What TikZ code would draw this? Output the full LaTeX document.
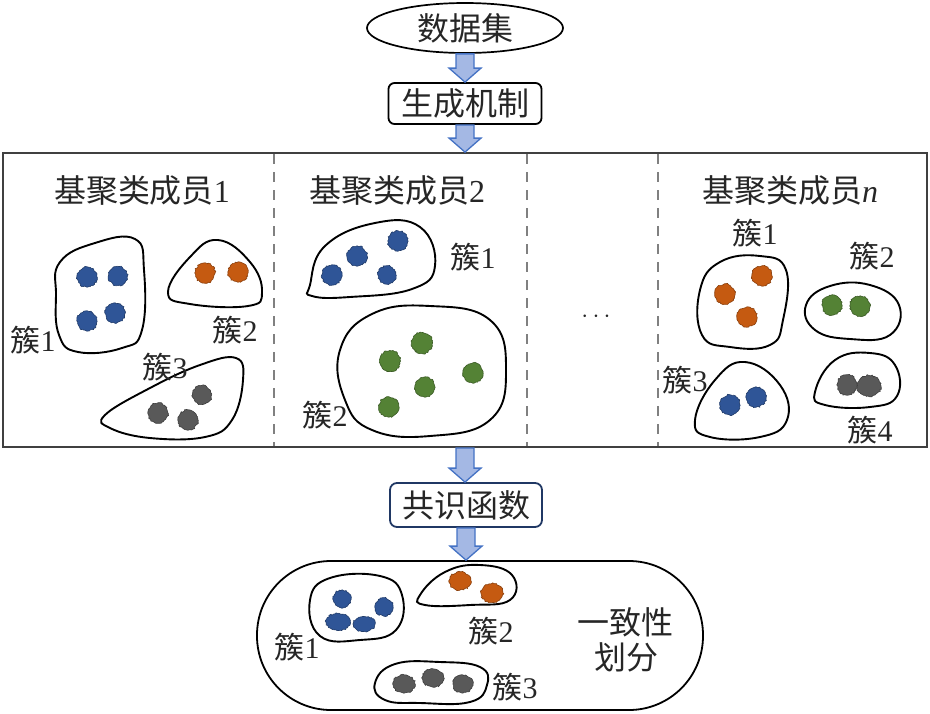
\documentclass[tikz,border=0pt]{standalone}
\usepackage{fontspec}
\setmainfont{Liberation Serif}
\newfontfamily\cjk{Noto Sans CJK SC}
\usetikzlibrary{calc,decorations.pathmorphing,shapes.geometric}
\definecolor{txt}{HTML}{262626}
\definecolor{dblue}{HTML}{2F5597}
\definecolor{dorange}{HTML}{C55A11}
\definecolor{dgreen}{HTML}{548235}
\definecolor{dgray}{HTML}{595959}
\definecolor{arrfill}{HTML}{A4B8E4}
\definecolor{arrdraw}{HTML}{4472C4}
\definecolor{navy}{HTML}{203864}
\definecolor{framegray}{HTML}{404040}
\definecolor{sepgray}{HTML}{808080}
\newcommand\blockarr[2]{%
  \path[fill=arrfill, draw=arrdraw, line width=1.3pt, line join=miter]
    let \p1=(#1), \p2=(#2) in
    (\x1-9pt,\y1) -- (\x1+9pt,\y1) -- (\x1+9pt,\y2+14pt) -- (\x1+16pt,\y2+14pt)
    -- (\x1,\y2) -- (\x1-16pt,\y2+14pt) -- (\x1-9pt,\y2+14pt) -- cycle;}
\begin{document}
\begin{tikzpicture}[x=1pt,y=-1pt,
  lbl/.style={text=txt, font=\fontsize{30}{30}\selectfont, inner sep=0pt},
  hdr/.style={text=txt, font=\fontsize{32}{32}\selectfont, inner sep=0pt},
  blob/.style={line width=1.9pt, draw=black},
  fuzz/.style={fill=#1, draw=#1!70!black, line width=0.6pt, decorate,
    decoration={random steps, segment length=1.5pt, amplitude=0.8pt}},
  sep/.style={draw=sepgray, line width=1.3pt, dash pattern=on 10pt off 8pt},
]
\pgfmathsetseed{7}
\useasboundingbox (0,0) rectangle (930,713);

% top
\node[draw, ellipse, minimum width=196pt, minimum height=50pt, line width=1.7pt, hdr] (ds) at (465,28) {\cjk 数据集};
\node[draw, rounded corners=6pt, minimum width=153pt, minimum height=41pt, line width=1.8pt, hdr] (gen) at (465,103.5) {\cjk 生成机制};
\node[draw=framegray, minimum width=924pt, minimum height=294pt, line width=1.8pt, inner sep=0pt] (panel) at (465,300) {};
\node[draw=navy, rounded corners=7pt, minimum width=152pt, minimum height=44pt, line width=1.8pt, hdr] (cons) at (466,505) {\cjk 共识函数};
\node[draw, rounded corners=74pt, minimum width=446pt, minimum height=149pt, line width=1.8pt, inner sep=0pt] (res) at (480,635.5) {};

\blockarr{ds.south}{gen.north}
\blockarr{gen.south}{panel.north}
\blockarr{panel.south}{cons.north}
\blockarr{cons.south}{res.north}

% separators
\draw[sep] (274,154) -- (274,446);
\draw[sep] (527,154) -- (527,446);
\draw[sep] (658,154) -- (658,446);

% headers
\node[hdr] (h1) at (142,190) {{\cjk 基聚类成员}1};
\node[hdr] (h2) at (397,190) {{\cjk 基聚类成员}2};
\node[hdr] (hn) at (790,190) {{\cjk 基聚类成员}\textit{n}};
\node[lbl] (dots) at (596,317) {$\cdots$};

% panel 1
\draw[blob] plot[smooth cycle, tension=0.75] coordinates {(60,262) (95,243) (135,239) (144,270) (142,330) (122,348) (78,352) (59,335) (56,295)};
\draw[blob] plot[smooth cycle, tension=0.75] coordinates {(168,292) (190,257) (218,240) (250,262) (262,292) (248,306) (190,304)};
\draw[blob] plot[smooth cycle, tension=0.7] coordinates {(105,415) (150,388) (200,365) (236,358) (243,380) (232,420) (205,437) (150,438) (110,428)};
\path[fuzz=dblue] (87,277) circle (10pt);
\path[fuzz=dblue] (118,276) circle (9.5pt);
\path[fuzz=dblue] (87,321) circle (10pt);
\path[fuzz=dblue] (115,313) circle (10pt);
\path[fuzz=dorange] (205,273) circle (10pt);
\path[fuzz=dorange] (238,272) circle (10pt);
\path[fuzz=dgray] (158,413) circle (10pt);
\path[fuzz=dgray] (188,420) circle (10pt);
\path[fuzz=dgray] (202,395) circle (9.5pt);
\node[lbl] (p1c1) at (33,340) {{\cjk 簇}1};
\node[lbl] (p1c2) at (235,330) {{\cjk 簇}2};
\node[lbl] (p1c3) at (165,367) {{\cjk 簇}3};

% panel 2
\draw[blob] plot[smooth cycle, tension=0.75] coordinates {(310,285) (325,246) (375,223) (420,227) (435,266) (412,289) (350,297) (312,296)};
\draw[blob] plot[smooth cycle, tension=0.75] coordinates {(340,350) (372,314) (430,306) (490,320) (506,370) (490,420) (430,436) (372,430) (345,400)};
\path[fuzz=dblue] (332,275) circle (10pt);
\path[fuzz=dblue] (357,256) circle (10pt);
\path[fuzz=dblue] (398,241) circle (10pt);
\path[fuzz=dblue] (387,275) circle (9pt);
\path[fuzz=dgreen] (390,361) circle (10.5pt);
\path[fuzz=dgreen] (422,343) circle (10.5pt);
\path[fuzz=dgreen] (425,387) circle (10pt);
\path[fuzz=dgreen] (473,373) circle (10pt);
\path[fuzz=dgreen] (389,407) circle (10pt);
\node[lbl] (p2c1) at (473,257) {{\cjk 簇}1};
\node[lbl] (p2c2) at (325,415) {{\cjk 簇}2};

% panel n
\draw[blob] plot[smooth cycle, tension=0.75] coordinates {(700,290) (720,262) (760,256) (786,270) (783,320) (770,345) (730,347) (702,335)};
\draw[blob] plot[smooth cycle, tension=0.75] coordinates {(806,305) (830,286) (870,285) (899,305) (890,335) (850,339) (815,330)};
\draw[blob] plot[smooth cycle, tension=0.75] coordinates {(695,420) (715,380) (745,362) (780,385) (787,420) (760,437) (710,437)};
\draw[blob] plot[smooth cycle, tension=0.75] coordinates {(815,392) (835,360) (870,353) (895,365) (897,396) (870,407) (825,405)};
\path[fuzz=dorange] (725,294) circle (10pt);
\path[fuzz=dorange] (762,276) circle (10pt);
\path[fuzz=dorange] (747,317) circle (10pt);
\path[fuzz=dgreen] (832,305) circle (10pt);
\path[fuzz=dgreen] (860,306) circle (10pt);
\path[fuzz=dblue] (730,405) circle (10pt);
\path[fuzz=dblue] (756,397) circle (10pt);
\path[fuzz=dgray] (847,385) circle (10pt);
\path[fuzz=dgray] (869,386) ellipse (12pt and 10.5pt);
\node[lbl] (pnc1) at (755,233) {{\cjk 簇}1};
\node[lbl] (pnc2) at (872,256) {{\cjk 簇}2};
\node[lbl] (pnc3) at (685,380) {{\cjk 簇}3};
\node[lbl] (pnc4) at (870,430) {{\cjk 簇}4};

% result
\draw[blob] plot[smooth cycle, tension=0.75] coordinates {(310,600) (330,578) (380,576) (402,595) (396,630) (360,640) (320,636)};
\draw[blob] plot[smooth cycle, tension=0.75] coordinates {(420,595) (445,572) (480,565) (512,575) (510,600) (470,605) (425,605)};
\draw[blob] plot[smooth cycle, tension=0.75] coordinates {(375,683) (395,664) (440,662) (480,667) (487,685) (470,702) (420,703) (385,700)};
\path[fuzz=dblue] (342,599) circle (9pt);
\path[fuzz=dblue] (384,607) circle (9pt);
\path[fuzz=dblue] (338,622) ellipse (12pt and 8.5pt);
\path[fuzz=dblue] (364,624) ellipse (11pt and 7.5pt);
\path[fuzz=dorange] (460,581) ellipse (11pt and 9pt);
\path[fuzz=dorange] (492,593) ellipse (11pt and 9.5pt);
\path[fuzz=dgray] (404,684) ellipse (11pt and 9pt);
\path[fuzz=dgray] (433,678) ellipse (11pt and 9pt);
\path[fuzz=dgray] (463,684) ellipse (10pt and 9pt);
\node[lbl] (rc1) at (297,647) {{\cjk 簇}1};
\node[lbl] (rc2) at (491,631) {{\cjk 簇}2};
\node[lbl] (rc3) at (515,687) {{\cjk 簇}3};
\node[hdr] (rt1) at (625,622) {\cjk 一致性};
\node[hdr] (rt2) at (626,657) {\cjk 划分};
\end{tikzpicture}
\end{document}
